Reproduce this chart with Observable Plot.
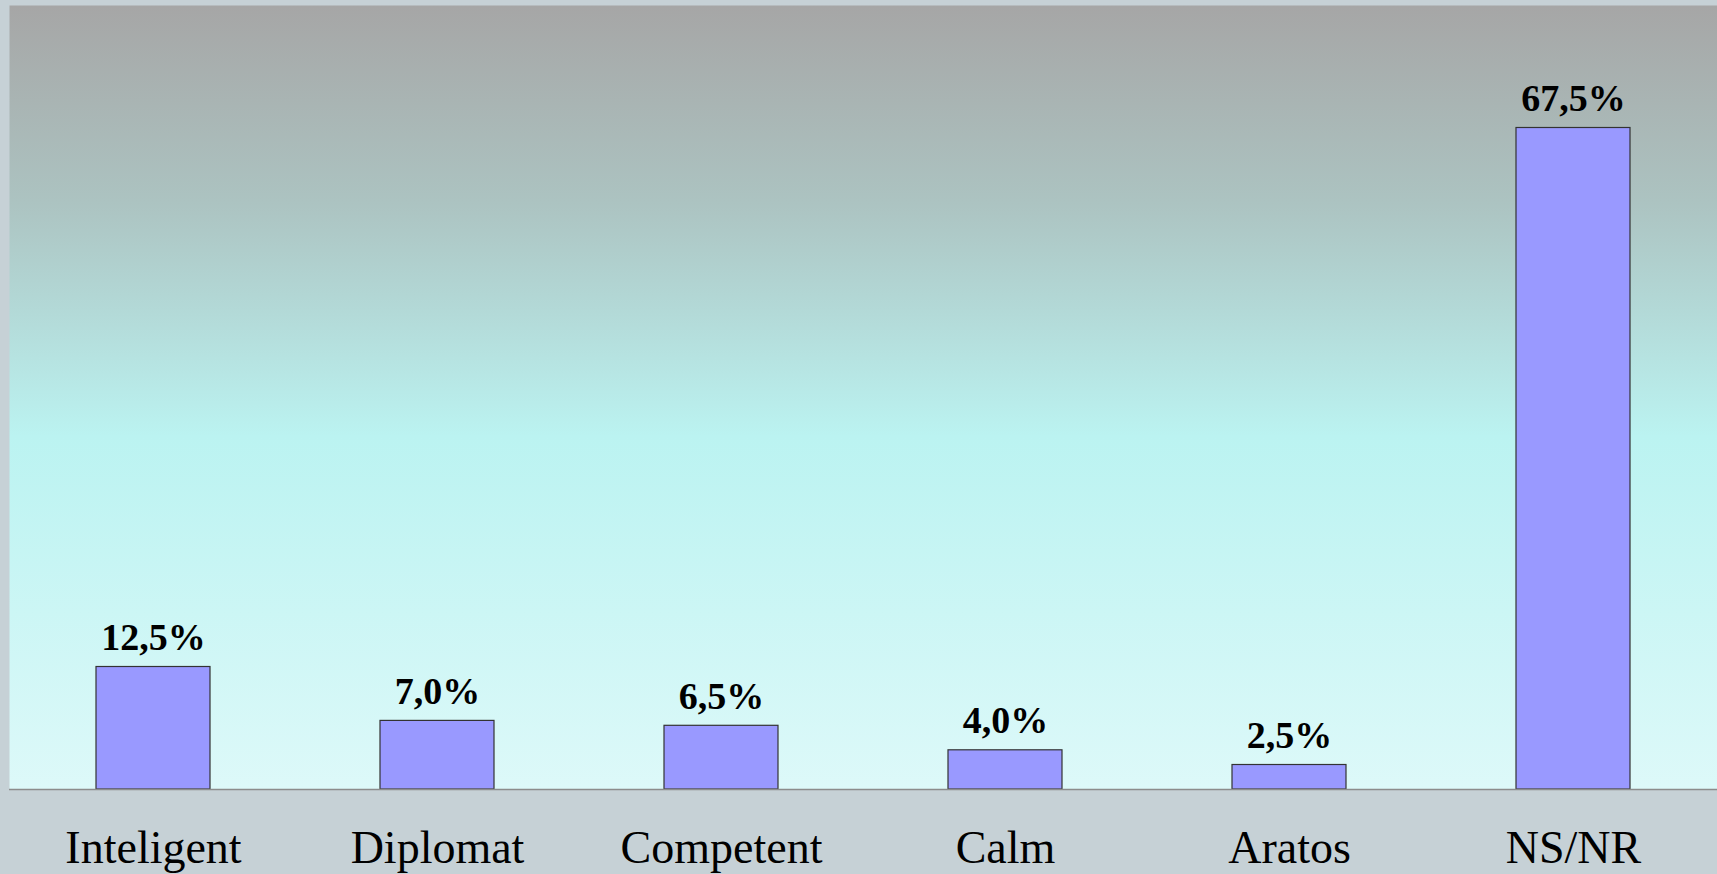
<!DOCTYPE html>
<html>
<head>
<meta charset="utf-8">
<script src="https://cdn.jsdelivr.net/npm/d3@7"></script>
<script src="https://cdn.jsdelivr.net/npm/@observablehq/plot@0.6"></script>
<style>
  html, body { margin: 0; padding: 0; background: #c6d1d6; overflow: hidden; }
  #chart svg { display: block; }
</style>
</head>
<body>
<div id="chart"></div>
<script>
const categories = ["Inteligent", "Diplomat", "Competent", "Calm", "Aratos", "NS/NR"];
const values = [12.5, 7.0, 6.5, 4.0, 2.5, 67.5];

const data = categories.map((c, i) => ({category: c, value: values[i]}));
const fmt = v => v.toFixed(1).replace(".", ",") + "%";

const chart = Plot.plot({
  width: 1717,
  height: 874,
  marginLeft: 9,
  marginRight: 0,
  marginTop: 5,
  marginBottom: 85,
  style: {background: "transparent", fontFamily: "'Liberation Serif', serif", color: "#000"},
  x: {domain: categories, paddingInner: 0.6, paddingOuter: 0.3, label: null},
  y: {domain: [0, 80], axis: null},
  marks: [
    Plot.frame({fill: "url(#bggrad)", stroke: "none"}),
    Plot.barY(data, {x: "category", y: "value", fill: "#9999ff", stroke: "#333333", strokeWidth: 1.2}),
    Plot.ruleY([0], {stroke: "#8c8c8c", strokeWidth: 1.5}),
    Plot.text(data, {x: "category", y: "value", text: d => fmt(d.value), lineAnchor: "bottom", dy: -17,
      fontSize: 38, fontWeight: "bold", fill: "#000", fontFamily: "'Liberation Serif', serif"}),
    Plot.axisX({tickSize: 0, tickPadding: 41, fontSize: 46, fontFamily: "'Liberation Serif', serif", fill: "#000"})
  ]
});

const svg = d3.select(chart);
const defs = svg.insert("defs", ":first-child");
const g = defs.append("linearGradient").attr("id", "bggrad").attr("x1", 0).attr("y1", 0).attr("x2", 0).attr("y2", 1);
g.append("stop").attr("offset", "0%").attr("stop-color", "#a6a6a6");
g.append("stop").attr("offset", "25%").attr("stop-color", "#acc3c1");
g.append("stop").attr("offset", "55%").attr("stop-color", "#bbf3f1");
g.append("stop").attr("offset", "100%").attr("stop-color", "#ddf9f9");

document.getElementById("chart").appendChild(chart);
</script>
</body>
</html>
